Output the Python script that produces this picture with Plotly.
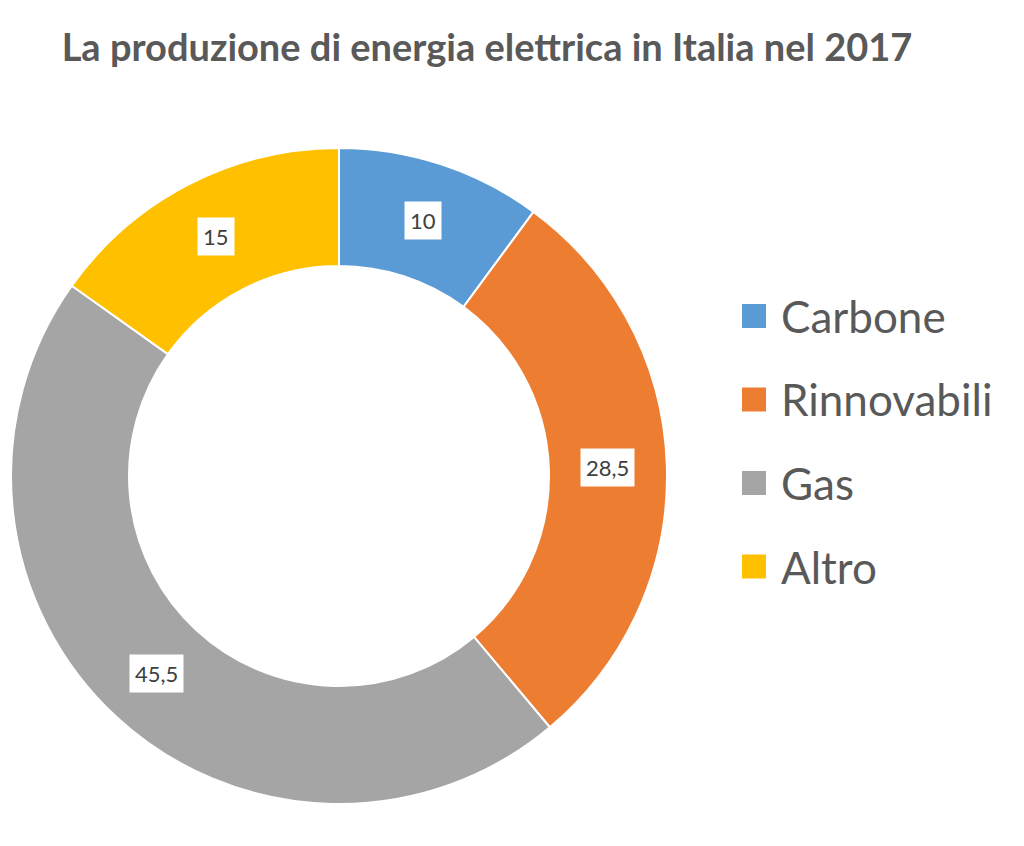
import math
import plotly.graph_objects as go

# dati
categorie = ["Carbone", "Rinnovabili", "Gas", "Altro"]
valori = [10, 28.5, 45.5, 15]
colori = ["#5b9bd5", "#ed7d31", "#a5a5a5", "#ffc000"]
titolo = "La produzione di energia elettrica in Italia nel 2017"

# la pagina ha un margine di 8px sul body: la figura e' piu' piccola
OFF = 8
W, H = 1024 - 2 * OFF, 846 - 2 * OFF


def fx(p):
    return (p - OFF) / W


def fy(p):
    return 1 - (p - OFF) / H


cx, cy = 339, 476          # centro della ciambella (px nella pagina)
r_out, r_in = 328, 210

fig = go.Figure()
fig.add_trace(go.Pie(
    labels=categorie,
    values=valori,
    hole=r_in / r_out,
    sort=False,
    direction="clockwise",
    rotation=0,
    marker=dict(colors=colori, line=dict(color="white", width=2)),
    textinfo="none",
    hoverinfo="label+value",
    showlegend=False,
    domain=dict(x=[fx(cx - r_out), fx(cx + r_out)],
                y=[fy(cy + r_out), fy(cy - r_out)]),
))

# etichette dei valori al centro dell'anello
tot = sum(valori)
cum = 0
r_mid = (r_out + r_in) / 2
for v in valori:
    ang = math.radians((cum + v / 2) / tot * 360)
    cum += v
    fig.add_annotation(
        x=fx(cx + r_mid * math.sin(ang)), y=fy(cy - r_mid * math.cos(ang)),
        xref="paper", yref="paper", xanchor="center", yanchor="middle",
        text=f"{v:g}".replace(".", ","), showarrow=False,
        font=dict(family="Lato", size=22, color="#404040"),
        bgcolor="white", borderpad=5,
    )

# legenda
for i, (nome, col) in enumerate(zip(categorie, colori)):
    ly = 316 + i * 83.5
    fig.add_shape(type="rect", xref="paper", yref="paper",
                  x0=fx(742), x1=fx(766), y0=fy(ly + 12), y1=fy(ly - 12),
                  fillcolor=col, line=dict(width=0))
    fig.add_annotation(
        x=fx(779), y=fy(ly), xref="paper", yref="paper",
        xanchor="left", yanchor="middle", text=nome, showarrow=False,
        font=dict(family="Lato", size=44, color="#595959"),
    )

fig.update_layout(
    width=W, height=H,
    margin=dict(l=0, r=0, t=0, b=0),
    paper_bgcolor="white",
    title=dict(text=f"<b>{titolo}</b>", x=fx(487), xanchor="center",
               y=fy(48), yanchor="middle",
               font=dict(family="Lato", size=38, color="#595959")),
)

fig.write_html("out.html")
